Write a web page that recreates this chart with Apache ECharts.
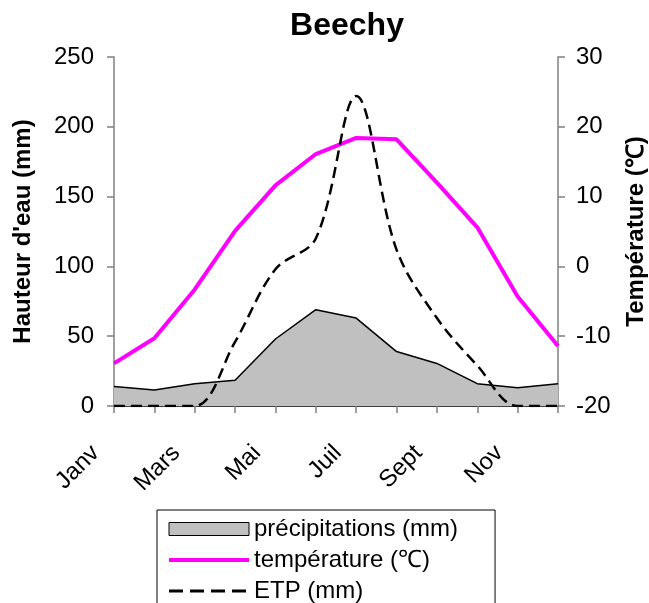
<!DOCTYPE html>
<html>
<head>
<meta charset="utf-8">
<script src="https://cdn.jsdelivr.net/npm/echarts@6/dist/echarts.min.js"></script>
<style>
html,body{margin:0;padding:0;background:#fff;}
#chart{width:649px;height:603px;}
</style>
</head>
<body>
<div id="chart"></div>
<script>
var months = ['Janv','Févr','Mars','Avr','Mai','Juin','Juil','Août','Sept','Oct','Nov','Déc'];
var precipitation = [14, 11.5, 16, 18.5, 48, 69, 63, 39, 30.5, 16, 13, 16];
var temperature = [-13.9, -10.3, -3.3, 5.1, 11.6, 16.1, 18.4, 18.2, 12.0, 5.6, -4.3, -11.4];
var etp = [0, 0, 0, 46, 98, 120, 222, 112, 63, 29, 0, 0];
var leftTicks = [0, 250, 50];
var rightTicks = [-20, 30, 10];

var FONT = 'Liberation Sans, Arial, sans-serif';
var chart = echarts.init(document.getElementById('chart'));
chart.setOption({
  animation: false,
  backgroundColor: '#ffffff',
  textStyle: {fontFamily: FONT},
  title: {
    text: 'Beechy',
    left: 342,
    textAlign: 'center',
    top: 5,
    textStyle: {fontFamily: FONT, fontSize: 32, fontWeight: 'bold', color: '#000'}
  },
  grid: {left: 114, right: 91, top: 57, bottom: 197, containLabel: false, outerBoundsMode: 'none'},
  legend: {
    orient: 'vertical',
    left: 157,
    top: 510,
    height: 120,
    padding: [7, 37, 10, 10],
    itemGap: 7,
    itemWidth: 80,
    itemHeight: 13,
    borderColor: '#000',
    borderWidth: 1,
    textStyle: {fontFamily: FONT, fontSize: 24, color: '#000', lineHeight: 24},
    data: [
      {name: 'précipitations (mm)', icon: 'rect', itemStyle: {color: '#c0c0c0', borderColor: '#000', borderWidth: 1}},
      {name: 'température (℃)', itemStyle: {opacity: 0}, lineStyle: {width: 4, color: '#ff00ff'}},
      {name: 'ETP (mm)', itemStyle: {opacity: 0}, lineStyle: {width: 3, color: '#000', type: [14, 7]}}
    ]
  },
  xAxis: {
    type: 'category',
    data: months,
    boundaryGap: false,
    axisLine: {lineStyle: {color: '#000', width: 1.5}},
    axisTick: {interval: 0, length: 7, lineStyle: {color: '#808080', width: 1.5}},
    axisLabel: {interval: 1, rotate: 45, margin: 25, padding: [0, 26, 0, 0], fontSize: 24, color: '#000', fontFamily: FONT},
    splitLine: {show: false}
  },
  yAxis: [
    {
      type: 'value',
      min: leftTicks[0], max: leftTicks[1], interval: leftTicks[2],
      name: "Hauteur d'eau (mm)",
      nameLocation: 'middle',
      nameGap: 79,
      nameTextStyle: {fontFamily: FONT, fontSize: 24, fontWeight: 'bold', color: '#000'},
      axisLine: {show: true, lineStyle: {color: '#808080', width: 1.5}},
      axisTick: {show: true, length: 7, lineStyle: {color: '#808080', width: 1.5}},
      axisLabel: {margin: 20, fontSize: 24, color: '#000', fontFamily: FONT},
      splitLine: {show: false}
    },
    {
      type: 'value',
      position: 'right',
      min: rightTicks[0], max: rightTicks[1], interval: rightTicks[2],
      name: 'Température (℃)',
      nameLocation: 'middle',
      nameGap: 66,
      nameRotate: 90,
      nameTextStyle: {fontFamily: FONT, fontSize: 24, fontWeight: 'bold', color: '#000'},
      axisLine: {show: true, lineStyle: {color: '#808080', width: 1.5}},
      axisTick: {show: true, length: 7, lineStyle: {color: '#808080', width: 1.5}},
      axisLabel: {margin: 18, fontSize: 24, color: '#000', fontFamily: FONT},
      splitLine: {show: false}
    }
  ],
  series: [
    {
      name: 'précipitations (mm)',
      type: 'line',
      yAxisIndex: 0,
      data: precipitation,
      symbol: 'none',
      lineStyle: {color: '#000', width: 1.5},
      itemStyle: {color: '#c0c0c0'},
      areaStyle: {color: '#c0c0c0', opacity: 1},
      z: 1
    },
    {
      name: 'ETP (mm)',
      type: 'line',
      yAxisIndex: 0,
      data: etp,
      symbol: 'none',
      smooth: 0.35,
      lineStyle: {color: '#000', width: 2.5, type: [11, 6]},
      itemStyle: {color: '#000'},
      z: 3
    },
    {
      name: 'température (℃)',
      type: 'line',
      yAxisIndex: 1,
      data: temperature,
      symbol: 'none',
      lineStyle: {color: '#ff00ff', width: 4},
      itemStyle: {color: '#ff00ff'},
      z: 2
    }
  ]
});
</script>
</body>
</html>
